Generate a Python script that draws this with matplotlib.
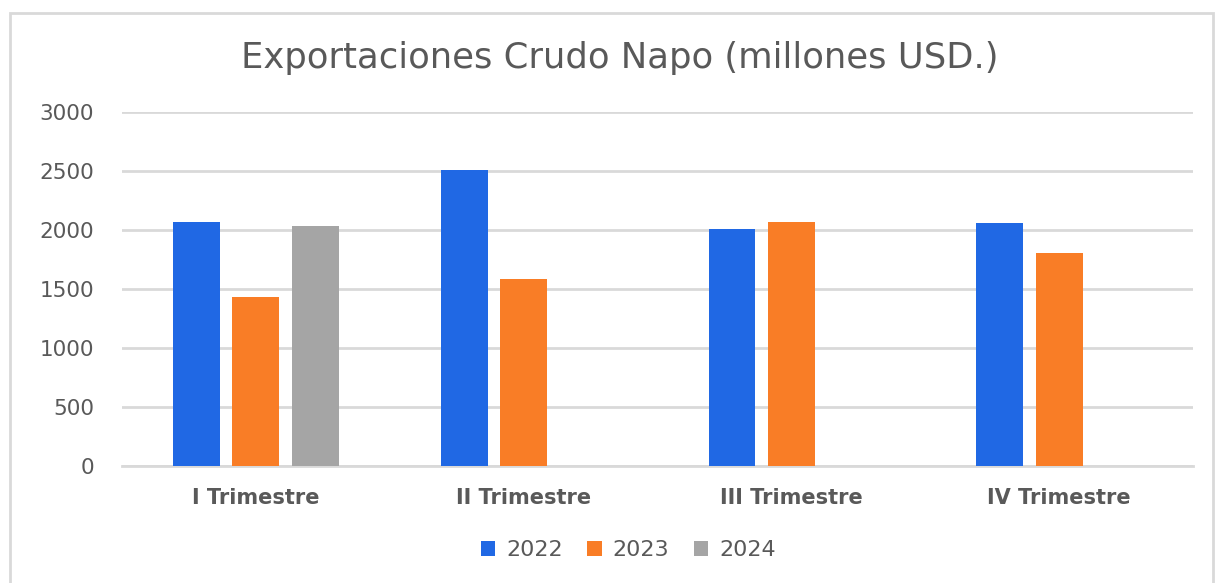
import numpy as np
import matplotlib.pyplot as plt
from matplotlib.patches import Rectangle

plt.rcParams['font.family'] = ['DejaVu Sans']

categorias = ["I Trimestre", "II Trimestre", "III Trimestre", "IV Trimestre"]
anios = ["2022", "2023", "2024"]
v2022 = [2068, 2508, 2011, 2057]
v2023 = [1435, 1587, 2065, 1808]
v2024 = [2031, 0, 0, 0]
colores = ["#2068E4", "#F97D26", "#A5A5A5"]

fig = plt.figure(figsize=(12.2, 5.83), dpi=100)
ax = fig.add_axes([122/1220, 1 - 466/583, (1193-122)/1220, (466-112)/583])

x = np.arange(len(categorias))
ancho = 0.175
paso = 0.222
for i, (vals, lab, c) in enumerate(zip([v2022, v2023, v2024], anios, colores)):
    vals = np.array(vals, dtype=float)
    mask = vals > 0
    ax.bar(x[mask] + (i - 1) * paso, vals[mask], width=ancho, color=c,
           label=lab, zorder=3)

ax.set_xlim(-0.5, 3.5)
ax.set_ylim(0, 3000)
ax.set_yticks(np.arange(0, 3001, 500))
ax.grid(axis='y', color='#D9D9D9', linewidth=2, zorder=0)
for s in ['top', 'right', 'left']:
    ax.spines[s].set_visible(False)
ax.spines['bottom'].set_color('#D9D9D9')
ax.spines['bottom'].set_linewidth(2)
ax.tick_params(axis='both', length=0, labelsize=15.5, colors='#595959')
ax.tick_params(axis='x', pad=16)
ax.tick_params(axis='y', pad=20)
ax.set_xticks(x)
ax.set_xticklabels(categorias, fontsize=15, fontweight='bold')

fig.text(0.508, 1 - 58/583, "Exportaciones Crudo Napo (millones USD.)",
         ha='center', va='center', fontsize=25.5, color='#595959')

leg = fig.legend(loc='center', bbox_to_anchor=(0.515, 1 - 550/583), ncol=3,
                 frameon=False, fontsize=16, handlelength=0.65, handleheight=0.65,
                 columnspacing=1.1, handletextpad=0.5)
for t in leg.get_texts():
    t.set_color('#595959')

fig.patches.append(Rectangle((10/1220, -0.05), (1213-10)/1220, 1.05 - 13/583,
                             transform=fig.transFigure, fill=False,
                             edgecolor='#D9D9D9', linewidth=2))

fig.savefig('out.png', dpi=100)
